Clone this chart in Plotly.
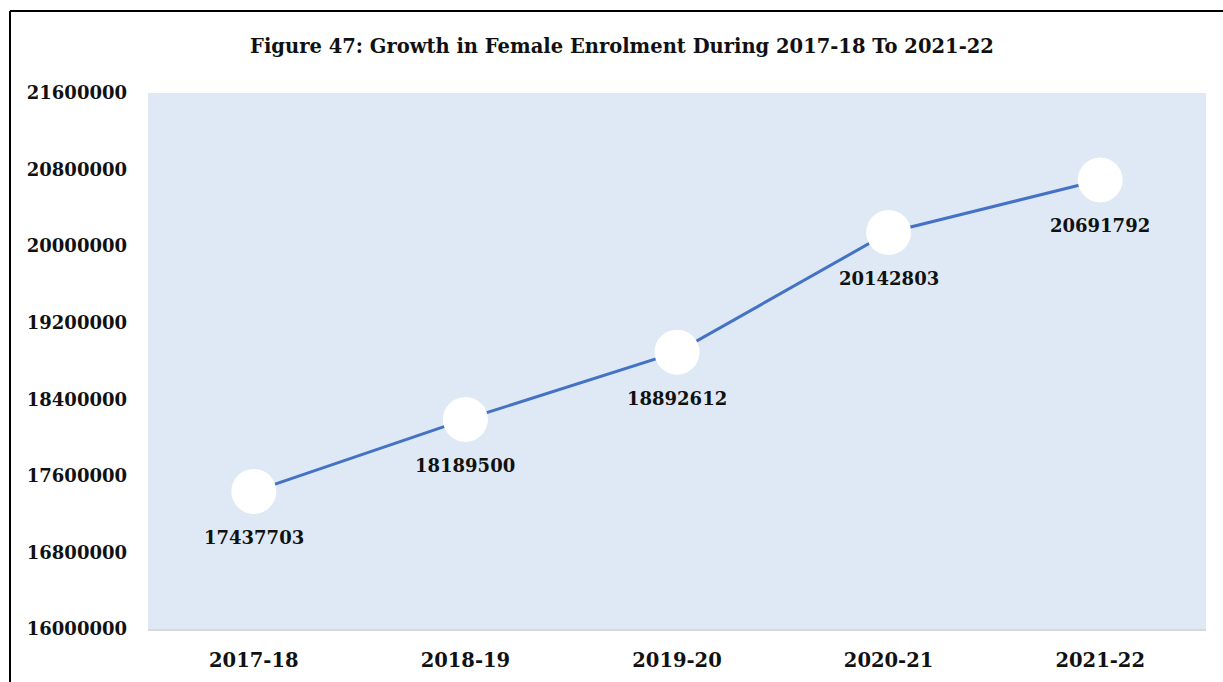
import plotly.graph_objects as go

# Female enrolment by academic year
years = ["2017-18", "2018-19", "2019-20", "2020-21", "2021-22"]
female_enrolment = [17437703, 18189500, 18892612, 20142803, 20691792]
y_ticks = [16000000, 16800000, 17600000, 18400000, 19200000, 20000000, 20800000, 21600000]

FONT = "DejaVu Serif"
W, H = 1223, 682
ML, MR, MT, MB = 148, 17, 93, 53

fig = go.Figure()
fig.add_trace(go.Scatter(
    x=years,
    y=female_enrolment,
    mode="lines+markers",
    line=dict(color="#4472C4", width=3),
    marker=dict(size=45, color="white", line=dict(width=0)),
    cliponaxis=False,
    hoverinfo="skip",
))

# value labels under each point
for yr, val in zip(years, female_enrolment):
    fig.add_annotation(
        x=yr, y=val, text=f"<b>{val}</b>", showarrow=False,
        yshift=-46, xanchor="center", yanchor="middle",
        font=dict(family=FONT, size=18, color="#111111"),
    )

pw = W - ML - MR
ph = H - MT - MB
# frame around the figure (left and top edges visible)
fig.add_shape(type="line", xref="paper", yref="paper",
              x0=(10 - ML) / pw, x1=(W + 10 - ML) / pw,
              y0=1 + (MT - 11) / ph, y1=1 + (MT - 11) / ph,
              line=dict(color="black", width=2))
fig.add_shape(type="line", xref="paper", yref="paper",
              x0=(10 - ML) / pw, x1=(10 - ML) / pw,
              y0=1 + (MT - 11) / ph, y1=-(MB + 10) / ph,
              line=dict(color="black", width=2))

fig.update_layout(
    width=W, height=H,
    margin=dict(l=ML, r=MR, t=MT, b=MB, autoexpand=False),
    paper_bgcolor="white",
    plot_bgcolor="#DEE9F5",
    showlegend=False,
    title=dict(
        text="<b>Figure 47: Growth in Female Enrolment During 2017-18 To 2021-22</b>",
        x=622 / W, xanchor="center", xref="container",
        y=1 - 46 / H, yanchor="middle", yref="container",
        font=dict(family=FONT, size=19.5, color="#111111"),
    ),
    xaxis=dict(
        range=[-0.5, 4.5], automargin=False,
        showgrid=False, zeroline=False,
        showline=True, linecolor="#D9D9D9", linewidth=2,
        ticks="", ticklabelstandoff=13,
        tickfont=dict(family=FONT, size=19.5, color="#111111", weight="bold"),
    ),
    yaxis=dict(
        range=[16000000, 21600000], automargin=False,
        tickvals=y_ticks,
        ticktext=[str(v) for v in y_ticks],
        showgrid=False, zeroline=False, showline=False,
        ticks="", ticklabelstandoff=20,
        tickfont=dict(family=FONT, size=18, color="#111111", weight="bold"),
    ),
)

fig.write_html("out.html")
